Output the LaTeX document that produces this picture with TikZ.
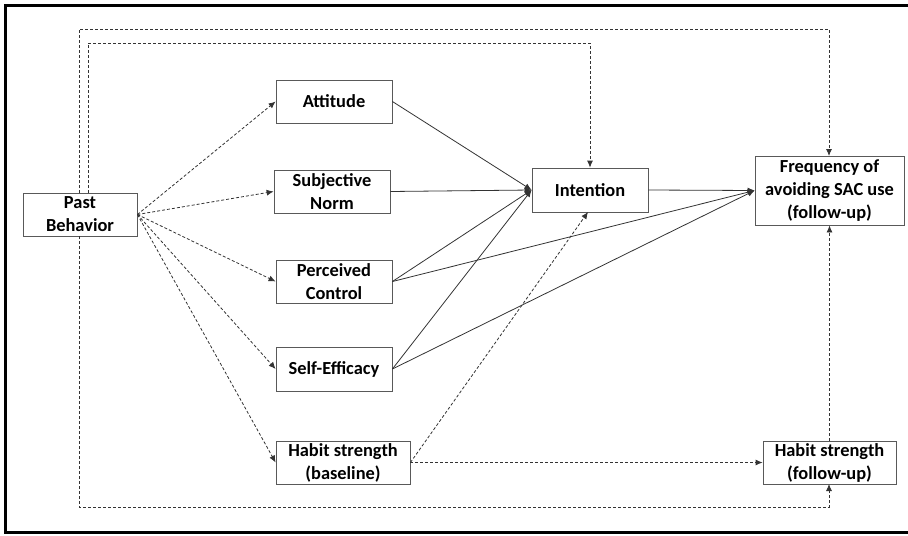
\documentclass[tikz,border=0pt]{standalone}
\usepackage{fontspec}
\setmainfont{Carlito}
\usetikzlibrary{arrows.meta}
\tikzset{
  box/.style={draw=black!65, fill=white, align=center, inner sep=0pt,
    font=\fontsize{9.2}{11.5}\selectfont\bfseries},
  path/.style={draw=black!80, line width=0.4pt, -{Latex[length=3.5pt,width=3pt]}},
  dpath/.style={path, dash pattern=on 1.5pt off 1pt},
}
\begin{document}
\begin{tikzpicture}[x=0.5pt,y=-0.5pt]
      \useasboundingbox (0,0) rectangle (908,535);
      \draw[line width=1.5pt] (908,5.5) -- (5.5,5.5) -- (5.5,532.5) -- (908,532.5);
      % constructs
      \node[box, minimum width=57pt, minimum height=21.5pt] (past) at (80,214.5) {Past\\Behavior};
      \node[box, minimum width=58pt, minimum height=21.5pt] (att) at (334,101.5) {Attitude};
      \node[box, minimum width=58pt, minimum height=21.5pt] (sn) at (332,191.5) {Subjective\\Norm};
      \node[box, minimum width=58pt, minimum height=21.5pt] (pc) at (334,281.5) {Perceived\\Control};
      \node[box, minimum width=58pt, minimum height=22pt] (se) at (334,369) {Self-Efficacy};
      \node[box, minimum width=67pt, minimum height=21.5pt] (hb) at (343,462.5) {Habit strength\\(baseline)};
      \node[box, minimum width=58pt, minimum height=22pt] (int) at (590,190) {Intention};
      \node[box, minimum width=74.5pt, minimum height=34.5pt] (freq) at (829.5,190.5) {Frequency of\\avoiding SAC use\\(follow-up)};
      \node[box, minimum width=66.5pt, minimum height=21.5pt] (hf) at (829.5,462.5) {Habit strength\\(follow-up)};
      % past behavior to predictors
      \draw[dpath] (past.east) -- (att.west);
      \draw[dpath] (past.east) -- (sn.west);
      \draw[dpath] (past.east) -- (pc.west);
      \draw[dpath] (past.east) -- (se.west);
      \draw[dpath] (past.east) -- (hb.west);
      % past behavior loops
      \draw[dpath] (79,193) -- (79,29) -- (829,29) -- (829,156);
      \draw[dpath] (88,193) -- (88,43) -- (590,43) -- (int.north);
      \draw[dpath] (79,236) -- (79,507) -- (829,507) -- (829,484);
      % predictors to intention and behavior
      \draw[path] (att.east) -- (int.west);
      \draw[path] (sn.east) -- (int.west);
      \draw[path] (pc.east) -- (int.west);
      \draw[path] (se.east) -- (int.west);
      \draw[path] (pc.east) -- (freq.west);
      \draw[path] (se.east) -- (freq.west);
      \draw[path] (int.east) -- (freq.west);
      % habit
      \draw[dpath] (hb.east) -- (hf.west);
      \draw[dpath] (hb.east) -- (588,212);
      \draw[dpath] (hf.north) -- (freq.south);
    \end{tikzpicture}
\end{document}
